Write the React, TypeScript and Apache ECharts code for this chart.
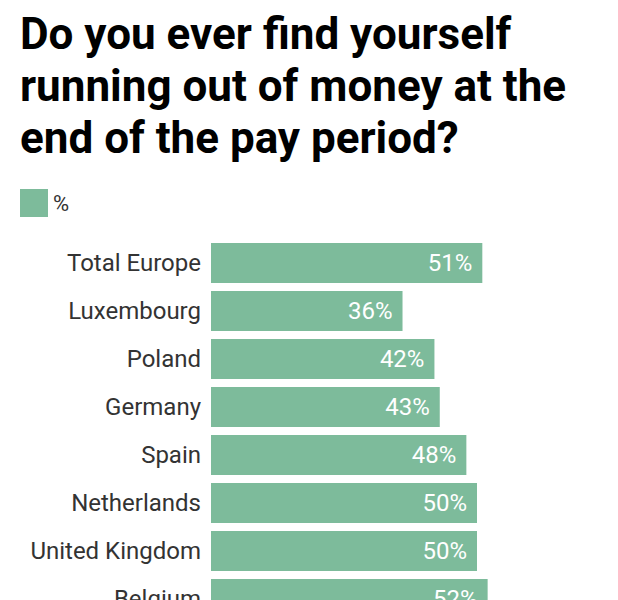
import React, { useEffect, useRef } from "react";
import * as echarts from "echarts";

const titleLines = [
  "Do you ever find yourself",
  "running out of money at the",
  "end of the pay period?",
];
const seriesName = "%";
const categories = [
  "Total Europe",
  "Luxembourg",
  "Poland",
  "Germany",
  "Spain",
  "Netherlands",
  "United Kingdom",
  "Belgium",
];
const values = [51, 36, 42, 43, 48, 50, 50, 52];

const BAR_COLOR = "#7dbb9b";
const FONT = "Roboto, 'Noto Sans', sans-serif";

export default function App() {
  const ref = useRef<HTMLDivElement>(null);
  useEffect(() => {
    if (!ref.current) return;
    const chart = echarts.init(ref.current, null, { renderer: "svg" });
    chart.setOption({
      animation: false,
      title: {
        text: titleLines.join("\n"),
        left: 12,
        top: 0,
        padding: 0,
        textStyle: {
          fontFamily: FONT,
          fontSize: 44,
          fontWeight: "bold",
          color: "#000",
          lineHeight: 52,
        },
      },
      legend: {
        left: 12,
        top: 181,
        padding: 0,
        itemWidth: 28,
        itemHeight: 28,
        icon: "rect",
        data: [seriesName],
        textStyle: { fontFamily: FONT, fontSize: 22, color: "#333" },
      },
      grid: {
        left: 203,
        top: 231,
        right: 26.6,
        height: 384,
        containLabel: false,
      },
      xAxis: {
        type: "value",
        min: 0,
        max: 70,
        show: false,
      },
      yAxis: {
        type: "category",
        data: categories,
        inverse: true,
        axisLine: { show: false },
        axisTick: { show: false },
        axisLabel: {
          fontFamily: FONT,
          fontSize: 24,
          color: "#333",
          margin: 10,
        },
      },
      series: [
        {
          name: seriesName,
          type: "bar",
          data: values,
          barWidth: 40,
          itemStyle: { color: BAR_COLOR },
          label: {
            show: true,
            position: "insideRight",
            distance: 10,
            formatter: "{c}%",
            fontFamily: FONT,
            fontSize: 24,
            color: "#fff",
          },
        },
      ],
    });
    return () => chart.dispose();
  }, []);
  return (
    <div style={{ width: 602, height: 592, overflow: "hidden" }}>
      <div ref={ref} style={{ width: 602, height: 640 }} />
    </div>
  );
}
